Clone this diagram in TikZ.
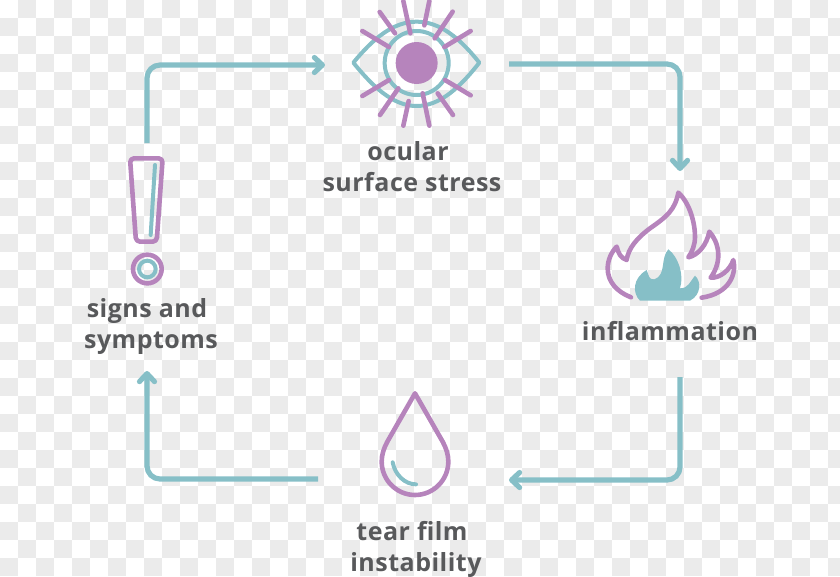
\documentclass[tikz,border=0pt]{standalone}
\usepackage{fontspec}
\setmainfont{Open Sans}[LetterSpace=2.0]
\usepackage{xcolor}
\usetikzlibrary{arrows.meta}

\definecolor{teal}{HTML}{86BFC7}
\definecolor{mauve}{HTML}{B684BC}
\definecolor{slate}{HTML}{58595B}
\definecolor{check}{HTML}{EBEBEB}

\begin{document}
\begin{tikzpicture}[x=1pt,y=-1pt,line cap=round,line join=round]
	\tikzset{
		cycle/.style={draw=teal,line width=5.2pt,rounded corners=13pt,line cap=butt,
			-{Straight Barb[length=8pt,width=15pt,line width=5.2pt,round]}},
		tealline/.style={draw=teal,line width=4pt},
		mauveline/.style={draw=mauve,line width=4.6pt},
		caption/.style={text=slate,font=\fontsize{25}{31}\selectfont\bfseries,align=center,inner sep=0pt}
	}
	\useasboundingbox (0,0) rectangle (840,576);

	% checkered backdrop
	\begin{scope}
		\clip (0,0) rectangle (840,576);
		\foreach \i in {0,...,46}
			\foreach \j in {0,...,31} {
				\pgfmathparse{int(mod(\i+\j,2))}
				\ifnum\pgfmathresult=1
					\fill[check] (18*\i,18*\j) rectangle (18*\i+18,18*\j+18);
				\fi
			}
	\end{scope}

	% eye
	\begin{scope}[shift={(340,0)},scale=0.33333]
		\path[tealline] (40,188) .. controls (100,115) and (160,65) .. (230,65)
			.. controls (300,65) and (360,115) .. (418,188)
			.. controls (360,262) and (300,318) .. (230,318)
			.. controls (160,318) and (100,262) .. (40,188) -- cycle;
		\path[tealline] (230,189) circle (96);
		\fill[mauve] (230,189) circle (63);
		\foreach \xa/\ya/\xb/\yb in {190/3/211/100,268/3/253/76,338/35/284/115,392/93/313/141,
			392/286/315/240,339/345/293/280,268/377/248/280,190/377/206/303,
			120/345/175/265,67/288/147/240,67/93/147/141,119/36/165/100}
			\path[mauveline] (\xa,\ya) -- (\xb,\yb);
	\end{scope}

	% flame
	\begin{scope}[shift={(595,180)},scale=0.33333]
		\fill[teal] (135,362) .. controls (112,340) and (112,295) .. (155,270)
			.. controls (162,285) and (160,300) .. (178,298)
			.. controls (215,285) and (195,235) .. (220,208)
			.. controls (250,230) and (268,285) .. (255,325)
			.. controls (280,325) and (285,305) .. (300,287)
			.. controls (320,305) and (318,345) .. (285,362) -- cycle;
		\path[mauveline] (108,352) .. controls (65,335) and (38,305) .. (38,265)
			.. controls (38,240) and (50,215) .. (65,200)
			.. controls (70,220) and (78,235) .. (95,240)
			.. controls (100,205) and (125,175) .. (165,145)
			.. controls (215,110) and (240,90) .. (250,38)
			.. controls (285,70) and (300,130) .. (300,170)
			.. controls (300,195) and (292,215) .. (280,232)
			.. controls (310,225) and (335,195) .. (343,155)
			.. controls (370,185) and (385,240) .. (347,293)
			.. controls (375,295) and (405,270) .. (415,240)
			.. controls (425,280) and (405,340) .. (320,353);
	\end{scope}

	% exclamation mark
	\begin{scope}[shift={(110,145)},scale=0.33333]
		\path[mauveline,rounded corners=4pt] (60,40) -- (158,40) -- (140,290) -- (78,290) -- cycle;
		\path[tealline] (135,60) -- (122,270);
		\path[mauveline] (112,372) circle (43);
		\path[tealline] (112,372) circle (25);
	\end{scope}

	% drop
	\begin{scope}[shift={(360,385)},scale=0.33333]
		\path[mauveline] (165,25) -- (82,170) .. controls (71,190) and (65,210) .. (65,230)
			.. controls (65,285) and (110,330) .. (165,330)
			.. controls (220,330) and (265,285) .. (265,230)
			.. controls (265,210) and (259,190) .. (248,170) -- cycle;
		\path[tealline] (98,232) .. controls (105,270) and (135,298) .. (168,298);
	\end{scope}

	\node[caption] (ocular) at (412,167) {ocular\hspace*{8pt}\\surface stress};
	\node[caption] (inflam) at (670,331) {inflammation};
	\node[caption] (tear) at (416,549) {tear film\hspace*{8pt}\\instability};
	\node[caption] (signs) at (151,326) {signs and\hspace*{8pt}\\symptoms};

	\coordinate (a0) at (147,143);
	\coordinate (a1) at (147,65);
	\coordinate (a2) at (325,65);
	\coordinate (b0) at (509,64);
	\coordinate (b1) at (680,64);
	\coordinate (b2) at (680,171);
	\coordinate (c0) at (680,377);
	\coordinate (c1) at (680,480);
	\coordinate (c2) at (509,480);
	\coordinate (d0) at (318,479);
	\coordinate (d1) at (147,479);
	\coordinate (d2) at (147,371);

	\draw[cycle] (a0) -- (a1) -- (a2);
	\draw[cycle] (b0) -- (b1) -- (b2);
	\draw[cycle] (c0) -- (c1) -- (c2);
	\draw[cycle] (d0) -- (d1) -- (d2);
\end{tikzpicture}
\end{document}
